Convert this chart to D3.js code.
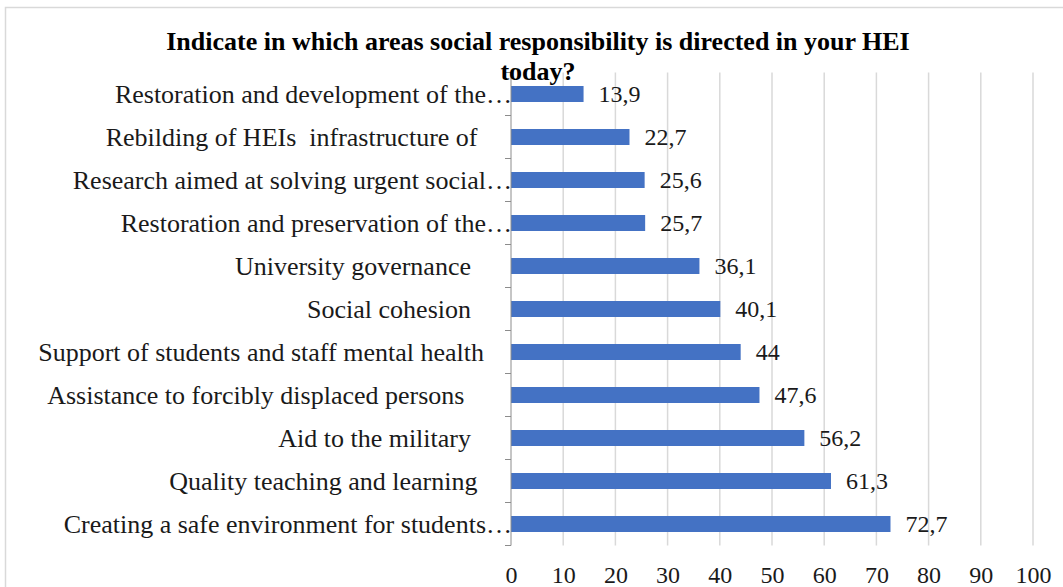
<!DOCTYPE html>
<html>
<head>
<meta charset="utf-8">
<script src="https://cdn.jsdelivr.net/npm/d3@7"></script>
<style>
  html, body { margin: 0; padding: 0; background: #fff; }
  svg text { white-space: pre; }
</style>
</head>
<body>
<svg id="chart" width="1063" height="587"></svg>
<script>
// Survey answers, listed top to bottom as they appear on the chart
const categories = [
  "Restoration and development of the…",
  "Rebilding of HEIs  infrastructure of ",
  "Research aimed at solving urgent social…",
  "Restoration and preservation of the…",
  "University governance  ",
  "Social cohesion  ",
  "Support of students and staff mental health",
  "Assistance to forcibly displaced persons   ",
  "Aid to the military  ",
  "Quality teaching and learning ",
  "Creating a safe environment for students…"
];
const values = [13.9, 22.7, 25.6, 25.7, 36.1, 40.1, 44, 47.6, 56.2, 61.3, 72.7];
const xTicks = [0, 10, 20, 30, 40, 50, 60, 70, 80, 90, 100];
const titleLines = [
  "Indicate in which areas social responsibility is directed in your HEI",
  "today?"
];

const svg = d3.select("#chart");
const serif = "'Liberation Serif', 'Times New Roman', serif";

// outer chart frame
svg.append("rect")
  .attr("x", 5.5).attr("y", 7.5)
  .attr("width", 1080).attr("height", 600)
  .attr("fill", "#fff")
  .attr("stroke", "#d9d9d9").attr("stroke-width", 1.5);

const plot = { left: 511, right: 1033, top: 72.5, bottom: 545.5 };

const x = d3.scaleLinear().domain([0, 100]).range([plot.left, plot.right]);
const y = d3.scaleBand()
  .domain(categories)
  .range([plot.top, plot.bottom])
  .paddingInner(0.628)
  .paddingOuter(0.314);

// vertical gridlines
svg.append("g")
  .selectAll("line")
  .data(xTicks.filter(d => d > 0))
  .join("line")
  .attr("x1", d => x(d)).attr("x2", d => x(d))
  .attr("y1", plot.top).attr("y2", plot.bottom)
  .attr("stroke", "#d9d9d9").attr("stroke-width", 1.5);

// bars
svg.append("g")
  .selectAll("rect")
  .data(values)
  .join("rect")
  .attr("x", x(0))
  .attr("y", (d, i) => y(categories[i]))
  .attr("width", d => x(d) - x(0))
  .attr("height", y.bandwidth())
  .attr("fill", "#4472c4");

// category axis: line plus tick marks between bands
const step = y.step();
const bandEdges = d3.range(categories.length + 1).map(i => plot.top + i * step);
const axisG = svg.append("g");
axisG.append("line")
  .attr("x1", x(0)).attr("x2", x(0))
  .attr("y1", plot.top).attr("y2", plot.bottom)
  .attr("stroke", "#8c8c8c").attr("stroke-width", 1);
axisG.selectAll("line.tick")
  .data(bandEdges)
  .join("line")
  .attr("class", "tick")
  .attr("x1", x(0) - 6).attr("x2", x(0))
  .attr("y1", d => d).attr("y2", d => d)
  .attr("stroke", "#8c8c8c").attr("stroke-width", 1);

// category labels; clipped labels run up to the axis line
svg.append("g")
  .selectAll("text")
  .data(categories)
  .join("text")
  .attr("x", d => d.endsWith("…") ? x(0) + 1 : x(0) - 27)
  .attr("y", d => y(d) + y.bandwidth() / 2)
  .attr("dy", "0.33em")
  .attr("text-anchor", "end")
  .attr("font-family", serif)
  .attr("font-size", 26)
  .attr("fill", "#1a1a1a")
  .text(d => d);

// value labels
const fmt = v => String(v).replace(".", ",");
svg.append("g")
  .selectAll("text")
  .data(values)
  .join("text")
  .attr("x", d => x(d) + 15)
  .attr("y", (d, i) => y(categories[i]) + y.bandwidth() / 2)
  .attr("dy", "0.35em")
  .attr("font-family", serif)
  .attr("font-size", 24)
  .attr("fill", "#1a1a1a")
  .text(fmt);

// value axis tick labels (no axis line)
const xAxis = d3.axisBottom(x).tickValues(xTicks).tickSize(0).tickPadding(0);
const xg = svg.append("g")
  .attr("transform", `translate(0, ${plot.bottom})`)
  .call(xAxis);
xg.select(".domain").remove();
xg.selectAll("text")
  .attr("y", 29.5)
  .attr("dy", "0.35em")
  .attr("font-family", serif)
  .attr("font-size", 24)
  .attr("fill", "#1a1a1a");

// title
svg.append("g")
  .selectAll("text")
  .data(titleLines)
  .join("text")
  .attr("x", 538)
  .attr("y", (d, i) => 50 + i * 30)
  .attr("text-anchor", "middle")
  .attr("font-family", serif)
  .attr("font-weight", "bold")
  .attr("font-size", 26)
  .attr("fill", "#000")
  .text(d => d);
</script>
</body>
</html>
